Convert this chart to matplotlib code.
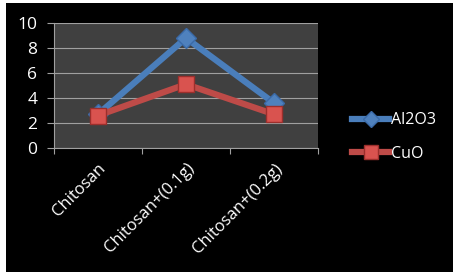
import matplotlib
matplotlib.use("Agg")
import matplotlib.pyplot as plt
import numpy as np

categories = ["Chitosan", "Chitosan+(0.1g)", "Chitosan+(0.2g)"]
al2o3 = [2.7, 8.8, 3.6]
cuo = [2.6, 5.1, 2.7]
yticks = [0, 2, 4, 6, 8, 10]

plt.rcParams['font.family'] = ['Open Sans', 'DejaVu Sans']

fig = plt.figure(figsize=(4.58, 2.76), dpi=100)
fig.patch.set_facecolor('white')
# black chart area
bg = plt.Rectangle((6/458, 4/276), (453-6)/458, 1 - 4/276 - 3/276, transform=fig.transFigure,
                   facecolor='black', edgecolor='none', zorder=-10)
fig.patches.append(bg)

ax = fig.add_axes([54/458, 1 - 148/276, (318-54)/458, (148-23)/276])
ax.set_facecolor('#404040')
x = np.arange(len(categories))
ax.plot(x, al2o3, color='#4a7ebb', lw=4.5, marker='D', ms=10,
        markerfacecolor='#4f81bd', markeredgecolor='#3a6aa8', mew=1, label='Al2O3', zorder=3)
ax.plot(x, cuo, color='#be4b48', lw=4.5, marker='s', ms=12,
        markerfacecolor='#d9534f', markeredgecolor='#9c2f2c', mew=1, label='CuO', zorder=4)

ax.set_xlim(-0.5, 2.5)
ax.set_ylim(0, 10)
ax.set_yticks(yticks)
ax.set_yticklabels([str(v) for v in yticks], color='white', fontsize=12.5)
ax.set_xticks([-0.5, 0.5, 1.5, 2.5], minor=False)
ax.set_xticklabels([])
ax.set_xticks(x, minor=True)
ax.set_xticklabels(categories, minor=True, rotation=45, ha='right', va='top',
                   rotation_mode='anchor', color='white', fontsize=12)
ax.tick_params(axis='x', which='minor', length=0, pad=9)
ax.tick_params(axis='x', which='major', length=4, color='#a0a0a0')
ax.tick_params(axis='y', length=5, color='#a0a0a0', pad=7)
ax.yaxis.grid(True, color='#a0a0a0', lw=0.8)
ax.set_axisbelow(True)
for s in ['top', 'right']:
    ax.spines[s].set_visible(False)
ax.spines['left'].set_color('#a0a0a0')
ax.spines['bottom'].set_color('#a0a0a0')

leg = fig.legend(loc='center left', bbox_to_anchor=(338/458, 1 - 137/276), frameon=False,
                 labelcolor='white', fontsize=11.5, handlelength=2.3, labelspacing=1.1,
                 handletextpad=0.1, markerscale=0.8)

fig.savefig('out.png', dpi=100, facecolor='white')
